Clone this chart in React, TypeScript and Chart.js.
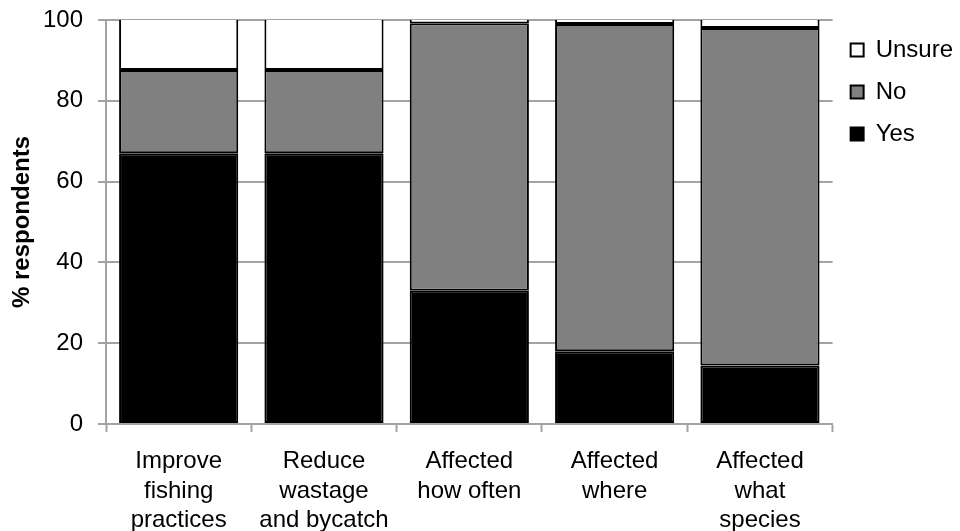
import React, { useEffect, useRef } from "react";
import { Chart, registerables } from "chart.js";

Chart.register(...registerables);

// Survey answers per question, % of respondents
const categories: string[][] = [
  ["Improve", "fishing", "practices"],
  ["Reduce", "wastage", "and bycatch"],
  ["Affected", "how often"],
  ["Affected", "where"],
  ["Affected", "what", "species"],
];
const yesValues = [67, 67, 33, 18, 14.5];
const noValues = [20.6, 20.6, 66.2, 81, 83.5];
const unsureValues = [12.4, 12.4, 0.8, 1, 2];

const yTicks = [0, 20, 40, 60, 80, 100];

const FONT = "'Liberation Sans', Arial, Helvetica, sans-serif";
const GRID = "#a3a3a3";

export default function App() {
  const canvasRef = useRef<HTMLCanvasElement | null>(null);

  useEffect(() => {
    const canvas = canvasRef.current;
    if (!canvas) return;
    const chart = new Chart(canvas, {
      type: "bar",
      data: {
        labels: categories,
        datasets: [
          {
            label: "Yes",
            data: yesValues,
            backgroundColor: "#000000",
            borderColor: "#000000",
            borderWidth: 2,
            borderSkipped: false,
          },
          {
            label: "No",
            data: noValues,
            backgroundColor: "#808080",
            borderColor: "#000000",
            borderWidth: 2,
            borderSkipped: false,
          },
          {
            label: "Unsure",
            data: unsureValues,
            backgroundColor: "#ffffff",
            borderColor: "#000000",
            borderWidth: 2,
            // top edge left open so the 100 gridline shows along it
            borderSkipped: "end",
          },
        ],
      },
      options: {
        animation: false,
        responsive: true,
        maintainAspectRatio: false,
        datasets: {
          bar: { barPercentage: 0.82, categoryPercentage: 1.0 },
        },
        layout: { padding: { top: 20, left: 0, right: -3, bottom: 0 } },
        plugins: {
          tooltip: { enabled: false },
          legend: {
            position: "right",
            align: "start",
            reverse: true,
            labels: {
              boxWidth: 13,
              boxHeight: 13,
              padding: 18,
              color: "#000000",
              font: { family: FONT, size: 24 },
            },
          },
        },
        scales: {
          x: {
            stacked: true,
            grid: {
              display: true,
              drawOnChartArea: false,
              drawTicks: true,
              tickLength: 8,
              tickColor: GRID,
              tickWidth: 2,
              offset: true,
            },
            border: { display: true, color: GRID, width: 2 },
            ticks: {
              color: "#000000",
              padding: 15,
              maxRotation: 0,
              autoSkip: false,
              font: { family: FONT, size: 24, lineHeight: 1.22 },
            },
            afterFit: (scale: any) => {
              scale.height = 107;
            },
          },
          y: {
            stacked: true,
            min: 0,
            max: 100,
            afterBuildTicks: (scale: any) => {
              scale.ticks = yTicks.map((v) => ({ value: v }));
            },
            grid: {
              color: GRID,
              lineWidth: 2,
              drawTicks: true,
              tickLength: 8,
            },
            border: { display: true, color: GRID, width: 2 },
            ticks: {
              color: "#000000",
              padding: 15,
              font: { family: FONT, size: 24 },
            },
            title: {
              display: true,
              text: "% respondents",
              color: "#000000",
              padding: { top: 10, bottom: 0 },
              font: { family: FONT, size: 24, weight: "bold", lineHeight: 1.0 },
            },
            afterFit: (scale: any) => {
              scale.width = 106;
              // the top padding of the layout already leaves room for the "100" label
              scale.paddingTop = 0;
              scale.paddingBottom = 0;
            },
          },
        },
      },
    });
    return () => chart.destroy();
  }, []);

  return (
    <div style={{ position: "fixed", left: 0, top: 0, width: 960, height: 531, background: "#ffffff" }}>
      <canvas ref={canvasRef} />
    </div>
  );
}
